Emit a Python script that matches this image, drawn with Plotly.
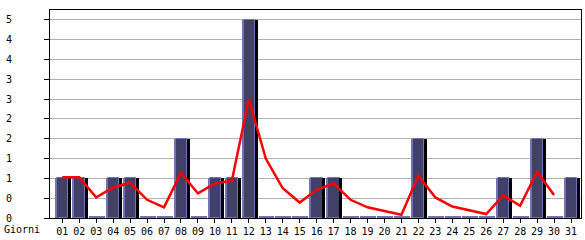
import plotly.graph_objects as go

days = ["01","02","03","04","05","06","07","08","09","10","11","12","13","14","15","16",
        "17","18","19","20","21","22","23","24","25","26","27","28","29","30","31"]
counts = [1,1,0,1,1,0,0,2,0,1,1,5,0,0,0,1,1,0,0,0,0,2,0,0,0,0,1,0,2,0,1]
trend_days = days[:30]
trend = [1.03,1.03,0.52,0.77,0.89,0.46,0.27,1.14,0.62,0.87,0.94,3.0,1.5,0.75,0.39,0.71,
         0.87,0.46,0.27,0.17,0.08,1.07,0.52,0.29,0.19,0.10,0.57,0.31,1.17,0.58]
y_tickvals = [0,0.5,1,1.5,2,2.5,3,3.5,4,4.5,5]
y_ticktext = ["0","0","1","1","2","2","3","3","4","4","5"]
x_title = "Giorni"

W, H = 585, 240
L, R, T, B = 50, 3, 10, 20
PX = 17.0  # px per category
FONT = "DejaVu Sans Mono"
FACE = "#404068"
EDGE = "#7272b4"
FLOOR = 0.05

def u(px):
    return px / PX

fig = go.Figure()
# floor strip (visible where count is zero)
fig.add_bar(x=days, y=[FLOOR]*len(days), width=u(16), offset=u(-7.3),
            marker=dict(color=EDGE, line=dict(width=0)), hoverinfo="skip")
# lavender left edge
fig.add_bar(x=days, y=counts, width=u(13.3), offset=u(-7.3),
            marker=dict(color=EDGE, line=dict(width=0)))
# face
fig.add_bar(x=days, y=counts, width=u(11.3), offset=u(-5.3),
            marker=dict(color=FACE, line=dict(color=EDGE, width=1)))
# black shadow
fig.add_bar(x=days, y=counts, width=u(3.0), offset=u(5.7),
            marker=dict(color="#000000", line=dict(width=0)))
# red trend line
fig.add_scatter(x=trend_days, y=trend, mode="lines",
                line=dict(color="#ff0000", width=2.5))

fig.update_layout(
    width=W, height=H, margin=dict(l=L, r=R, t=T, b=B),
    barmode="overlay", showlegend=False,
    paper_bgcolor="white", plot_bgcolor="white",
    font=dict(family=FONT, size=10, color="black"),
    bargap=0,
)
fig.update_xaxes(type="category", range=[-0.724, 30.588], showgrid=False,
                 showline=True, mirror=True, linecolor="black", linewidth=1,
                 ticks="outside", ticklen=4, tickcolor="black", tickwidth=1,
                 tickfont=dict(family=FONT, size=10), zeroline=False)
fig.update_yaxes(range=[0, 5.25], tickvals=y_tickvals, ticktext=y_ticktext,
                 showgrid=True, gridcolor="#b0b0b0", gridwidth=1,
                 showline=True, mirror=True, linecolor="black", linewidth=1,
                 ticks="outside", ticklen=5, tickcolor="black", tickwidth=1,
                 ticklabelstandoff=30, zeroline=False,
                 tickfont=dict(family=FONT, size=10))
fig.add_annotation(text=x_title, xref="paper", yref="paper",
                   x=(2 - L) / (W - L - R), y=-12 / (H - T - B),
                   xanchor="left", yanchor="middle", showarrow=False,
                   font=dict(family=FONT, size=10, color="black"))

fig.write_html("out.html")
